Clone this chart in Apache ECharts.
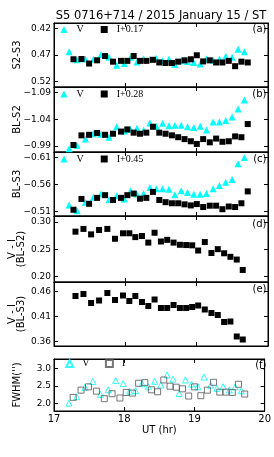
<!DOCTYPE html>
<html><head><meta charset="utf-8">
<script src="https://cdn.jsdelivr.net/npm/echarts@6/dist/echarts.min.js"></script>
<style>html,body{margin:0;padding:0;background:#fff}#c{width:274px;height:457px}</style>
</head><body><div id="c"></div>
<script>
// ---- data (UT hours) ----
const tV = [17.212,17.324,17.441,17.552,17.660,17.772,17.879,17.986,18.075,18.163,18.256,18.345,18.434,18.522,18.611,18.695,18.783,18.872,18.960,19.049,19.138,19.231,19.319,19.408,19.497,19.580,19.669];
const tI = [17.273,17.385,17.492,17.604,17.716,17.827,17.939,18.028,18.117,18.205,18.294,18.387,18.476,18.564,18.653,18.741,18.830,18.918,19.002,19.091,19.184,19.273,19.361,19.450,19.539,19.627,19.716];
const tVI = [17.301,17.413,17.520,17.632,17.748,17.855,17.967,18.056,18.140,18.233,18.322,18.410,18.499,18.587,18.676,18.765,18.853,18.937,19.021,19.114,19.207,19.296,19.385,19.473,19.562,19.646];

const s2s3V = [0.464,0.479,0.4775,0.478,0.469,0.474,0.489,0.486,0.474,0.483,0.477,0.478,0.476,0.481,0.4775,0.488,0.481,0.482,0.484,0.487,0.477,0.480,0.4775,0.4725,0.474,0.459,0.464];
const s2s3I = [0.478,0.4775,0.486,0.480,0.472,0.4825,0.481,0.481,0.472,0.481,0.481,0.479,0.484,0.485,0.485,0.4825,0.480,0.478,0.4705,0.482,0.480,0.484,0.484,0.481,0.491,0.4825,0.484];
const bls2V = [-0.985,-0.991,-1.003,-1.013,-1.012,-1.0065,-1.026,-1.018,-1.021,-1.023,-1.020,-1.033,-1.027,-1.0325,-1.028,-1.029,-1.029,-1.026,-1.0245,-1.027,-1.020,-1.035,-1.035,-1.0375,-1.044,-1.059,-1.076];
const bls2I = [-0.992,-1.010,-1.011,-1.0145,-1.011,-1.013,-1.017,-1.021,-1.015,-1.013,-1.015,-1.026,-1.015,-1.013,-1.010,-1.0065,-1.003,-0.999,-0.994,-1.003,-0.997,-1.004,-0.998,-0.999,-1.008,-1.0065,-1.031];
const bls3V = [-0.522,-0.511,-0.527,-0.536,-0.542,-0.532,-0.539,-0.533,-0.548,-0.542,-0.543,-0.554,-0.552,-0.552,-0.551,-0.541,-0.548,-0.545,-0.5415,-0.5415,-0.543,-0.552,-0.558,-0.564,-0.569,-0.598,-0.610];
const bls3I = [-0.513,-0.533,-0.524,-0.535,-0.540,-0.531,-0.535,-0.540,-0.543,-0.5335,-0.535,-0.546,-0.531,-0.527,-0.525,-0.525,-0.523,-0.521,-0.5235,-0.518,-0.5205,-0.5205,-0.514,-0.519,-0.518,-0.525,-0.547];
const viBLS2 = [0.282,0.287,0.277,0.285,0.287,0.269,0.279,0.279,0.272,0.274,0.262,0.280,0.264,0.267,0.262,0.258,0.2575,0.257,0.2475,0.263,0.243,0.250,0.2425,0.236,0.231,0.212];
const viBLS3 = [0.451,0.455,0.437,0.442,0.457,0.443,0.452,0.441,0.451,0.439,0.431,0.444,0.427,0.427,0.433,0.427,0.427,0.429,0.432,0.424,0.417,0.413,0.399,0.400,0.370,0.364];
const fwhmV = [2.01,2.196,2.46,2.625,2.262,2.39,2.65,2.565,2.35,2.365,2.56,2.476,2.63,2.523,2.81,2.69,2.285,2.668,2.55,2.476,2.75,2.52,2.43,2.476,2.387,2.47,2.364];
const fwhmI = [2.176,2.38,2.472,2.352,2.139,2.278,2.157,2.315,2.296,2.574,2.593,2.389,2.333,2.667,2.491,2.463,2.417,2.213,2.472,2.222,2.38,2.602,2.324,2.324,2.315,2.546,2.269];

// tick labels
const ticksA = [0.42,0.47,0.52];
const ticksB = [-1.09,-1.04,-0.99];
const ticksC = [-0.61,-0.56,-0.51];
const ticksD = [0.20,0.25,0.30];
const ticksE = [0.36,0.41,0.46];
const ticksF = [2.0,2.5,3.0];
const xTicks = [17,18,19,20];
const panelTags = ['(a)','(b)','(c)','(d)','(e)','(f)'];
const yNames = ['S2-S3','BL-S2','BL-S3','V - I\n(BL-S2)','V - I\n(BL-S3)',"FWHM('')"];
const title = 'S5 0716+714 / 2015 January 15 / ST';

// ---- layout ----
const panels = [
  {top:23, h:64, min:0.41, max:0.53, inv:true, ticks:ticksA, dec:2},
  {top:87, h:65, min:-1.10, max:-0.979, inv:true, ticks:ticksB, dec:2},
  {top:152, h:64, min:-0.62, max:-0.5014, inv:true, ticks:ticksC, dec:2},
  {top:216, h:66, min:0.19, max:0.3106, inv:false, ticks:ticksD, dec:2},
  {top:282, h:64, min:0.351, max:0.479, inv:false, ticks:ticksE, dec:2},
  {top:359, h:52, min:1.79, max:3.26, inv:false, ticks:ticksF, dec:1}
];
const L = 54, R = 6;
const sans = 'DejaVu Sans';
const serif = 'Liberation Serif';
const fmt = (v,d) => (v < 0 ? '\u2212' : '') + Math.abs(v).toFixed(d);

const grid = [], xAxis = [], yAxis = [];
panels.forEach((p,i) => {
  grid.push({left:L, right:R, top:p.top, height:p.h, show:true, borderColor:'#000', borderWidth:1, containLabel:false});
  const last = i === panels.length-1;
  const xa = (pos, labels) => ({type:'value', gridIndex:i, position:pos, min:17, max:20, interval:1,
    axisLine:{show:true, lineStyle:{color:'#000', width:1}},
    axisTick:{show:true, inside:true, length:4, lineStyle:{color:'#000'}},
    axisLabel:{show:labels, color:'#000', fontSize:10, fontFamily:sans, margin:3, customValues: xTicks, formatter:v=>String(v)},
    splitLine:{show:false},
    name: labels ? 'UT (hr)' : '', nameLocation:'middle', nameGap:14,
    nameTextStyle:{color:'#000', fontSize:10, fontFamily:sans}});
  xAxis.push(xa('bottom', last));
  xAxis.push(xa('top', false));
  const ya = (pos, labels) => ({type:'value', gridIndex:i, position:pos, min:p.min, max:p.max, inverse:p.inv,
    axisLine:{show:true, lineStyle:{color:'#000', width:1}},
    axisTick:{show:true, inside:true, length:4, customValues:p.ticks, lineStyle:{color:'#000'}},
    axisLabel:{show:labels, color:'#000', fontSize:9, fontFamily:sans, margin:3, customValues:p.ticks, formatter:v=>fmt(v,p.dec), hideOverlap:false},
    splitLine:{show:false}});
  yAxis.push(ya('left', true));
  yAxis.push(ya('right', false));
});

const zip = (t, v) => t.map((x,k) => [x, v[k]]);
const cyan = '#00ffff';
const tri = (name, i, t, v) => ({name, type:'scatter', xAxisIndex:2*i, yAxisIndex:2*i, symbol:'triangle', symbolSize:7,
  itemStyle:{color:cyan, opacity:1}, data: zip(t,v), silent:true, z:2});
const sq = (name, i, t, v) => ({name, type:'scatter', xAxisIndex:2*i, yAxisIndex:2*i, symbol:'rect', symbolSize:6,
  itemStyle:{color:'#000', opacity:1}, data: zip(t,v), silent:true, z:3});

const series = [
  tri('V_a',0,tV,s2s3V), sq('I+0.17',0,tI,s2s3I),
  tri('V_b',1,tV,bls2V), sq('I+0.28',1,tI,bls2I),
  tri('V_c',2,tV,bls3V), sq('I+0.45',2,tI,bls3I),
  sq('VI_d',3,tVI,viBLS2),
  sq('VI_e',4,tVI,viBLS3),
  {name:'V_f', type:'scatter', xAxisIndex:10, yAxisIndex:10, symbol:'triangle', symbolSize:6,
    itemStyle:{color:'rgba(0,0,0,0)', borderColor:cyan, borderWidth:1}, data:zip(tV,fwhmV), silent:true},
  {name:'I_f', type:'scatter', xAxisIndex:10, yAxisIndex:10, symbol:'rect', symbolSize:6,
    itemStyle:{color:'rgba(0,0,0,0)', borderColor:'#555', borderWidth:1}, data:zip(tI,fwhmI), silent:true}
];

const lname = n => n.split('_')[0];
const leg = (top, left, gap, data) => ({top, left, itemWidth:7, itemHeight:7, itemGap:gap, padding:0,
  data, selectedMode:false, formatter:lname,
  textStyle:{color:'#000', fontSize:10, fontFamily:serif, lineHeight:12, padding:[0,0,0,4]}});
const legend = [
  leg(23.5, 60.5, 17, ['V_a','I+0.17']),
  leg(88, 60.5, 17, ['V_b','I+0.28']),
  leg(153, 60.5, 17, ['V_c','I+0.45']),
  leg(357.5, 65.2, 15.5, ['V_f','I_f'])
];

const tagY = [29.5, 94, 159, 224, 289, 365];
const graphic = [{type:'text', x:161, y:16, style:{text:title, align:'center', verticalAlign:'middle', font:'11.5px "DejaVu Sans"', fill:'#000'}}]
  .concat(panelTags.map((s,i) => ({type:'text', x:266.5, y:tagY[i], style:{text:s, align:'right', verticalAlign:'middle', font:'10px "DejaVu Sans"', fill:'#000'}})))
  .concat(yNames.map((s,i) => ({type:'text', x:17, y:panels[i].top + panels[i].h/2, rotation:Math.PI/2,
    style:{text:s, align:'center', verticalAlign:'middle', font:'10px "DejaVu Sans"', lineHeight:9.5, fill:'#000'}})));

const chart = echarts.init(document.getElementById('c'), null, {renderer:'canvas'});
chart.setOption({animation:false, backgroundColor:'#fff', grid, xAxis, yAxis, series, legend, graphic});
</script></body></html>
